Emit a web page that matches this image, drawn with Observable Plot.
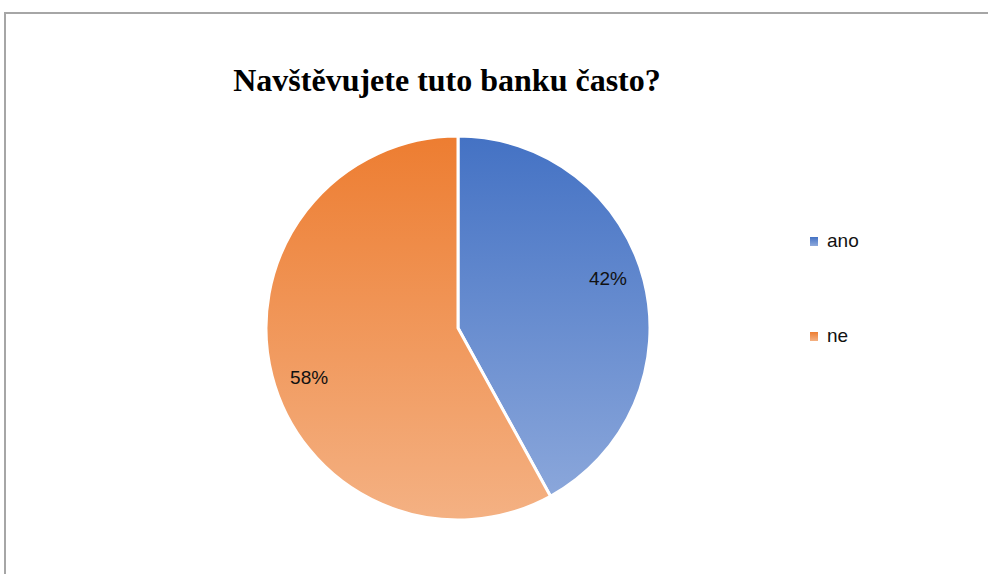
<!DOCTYPE html>
<html><head><meta charset="utf-8">
<script src="https://cdn.jsdelivr.net/npm/d3@7"></script>
<script src="https://cdn.jsdelivr.net/npm/@observablehq/plot@0.6"></script>
<style>
html,body{margin:0;padding:0;background:#fff;width:988px;height:574px;overflow:hidden;}
#frame{position:absolute;left:4px;top:12px;width:1100px;height:700px;border-left:2px solid #a6a6a6;border-top:2px solid #a6a6a6;}
#title{position:absolute;left:0;width:894px;top:62px;text-align:center;font-family:"Liberation Serif","Times New Roman",serif;font-weight:bold;font-size:32px;color:#000;white-space:nowrap;}
#chart{position:absolute;left:0;top:0;}
.leg{position:absolute;font-family:"Liberation Sans",Arial,sans-serif;font-size:19px;color:#111;display:flex;align-items:center;height:24px;}
.sw{width:8px;height:9px;margin-right:9px;}
</style></head>
<body>
<div id="frame"></div>
<div id="chart"></div>
<div id="title">Navštěvujete tuto banku často?</div>
<div id="legend"></div>
<script>
const categories = ["ano", "ne"];
const values = [42, 58];
const labels = ["42%", "58%"];
const topColors = ["#4472c4", "#ed7d31"];
const bottomColors = ["#8faadc", "#f4b183"];

const data = categories.map((c, i) => ({category: c, value: values[i], label: labels[i], i}));
const pie = d3.pie().sort(null).value(d => d.value)(data);
const labelR = 0.82;
const labelAngleShift = -4 * Math.PI / 180;
const labelData = pie.map(p => {
  const a = (p.startAngle + p.endAngle) / 2 + labelAngleShift;
  return {x: Math.sin(a) * labelR, y: Math.cos(a) * labelR, label: p.data.label};
});

const cx = 458, cy = 328, R = 192;

function pieMark(index, scales, values, dimensions, context) {
  const g = d3.create("svg:g");
  const x0 = scales.x(0), y0 = scales.y(0);
  const r = scales.x(1) - scales.x(0);
  const defs = g.append("defs");
  data.forEach((d, i) => {
    const lg = defs.append("linearGradient")
      .attr("id", "grad" + i)
      .attr("gradientUnits", "userSpaceOnUse")
      .attr("x1", 0).attr("y1", -r).attr("x2", 0).attr("y2", r);
    lg.append("stop").attr("offset", "0%").attr("stop-color", topColors[i]);
    lg.append("stop").attr("offset", "100%").attr("stop-color", bottomColors[i]);
  });
  const arc = d3.arc().innerRadius(0).outerRadius(r);
  g.append("g").attr("transform", `translate(${x0},${y0})`)
    .selectAll("path").data(pie).join("path")
    .attr("d", arc)
    .attr("fill", (d, i) => `url(#grad${i})`)
    .attr("stroke", "#fff")
    .attr("stroke-width", 3)
    .attr("stroke-linejoin", "round");
  return g.node();
}

const plot = Plot.plot({
  width: 988,
  height: 574,
  margin: 0,
  x: {type: "linear", domain: [-1, 1], range: [cx - R, cx + R], axis: null},
  y: {type: "linear", domain: [-1, 1], range: [cy + R, cy - R], axis: null},
  style: {background: "transparent", overflow: "visible"},
  marks: [
    pieMark,
    Plot.text(labelData, {x: "x", y: "y", text: "label", fontSize: 19, fill: "#111", fontFamily: "Liberation Sans, Arial, sans-serif"})
  ]
});
document.getElementById("chart").appendChild(plot);

const legend = document.getElementById("legend");
const legTops = [229, 324];
categories.forEach((c, i) => {
  const el = document.createElement("div");
  el.className = "leg";
  el.style.left = "810px";
  el.style.top = legTops[i] + "px";
  el.innerHTML = `<div class="sw" style="background:linear-gradient(${topColors[i]},${bottomColors[i]})"></div><span>${c}</span>`;
  legend.appendChild(el);
});
</script>
</body></html>
